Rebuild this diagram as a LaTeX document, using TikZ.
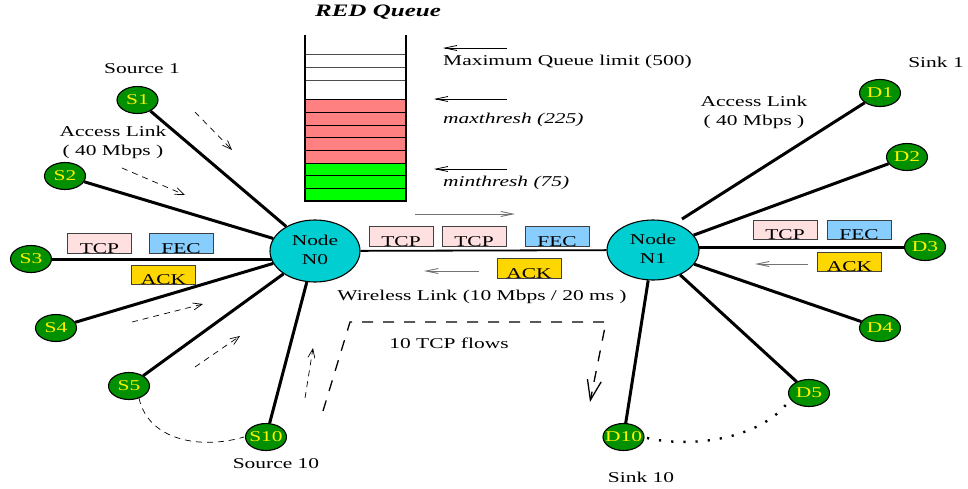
\documentclass[tikz,border=0pt]{standalone}
\usepackage{fontspec}
\setmainfont{Liberation Serif}
\usepackage{graphicx}
\usetikzlibrary{arrows.meta,shapes.geometric,backgrounds}
\newcommand{\hs}[1]{\scalebox{1.43}[1]{#1}}
\definecolor{nodegreen}{RGB}{0,144,0}
\definecolor{hubcyan}{RGB}{0,206,209}
\definecolor{tcpc}{RGB}{255,224,224}
\definecolor{fecc}{RGB}{135,206,255}
\definecolor{ackc}{RGB}{255,215,0}
\definecolor{qred}{RGB}{255,128,128}
\definecolor{qgreen}{RGB}{0,255,0}
\begin{document}
\begin{tikzpicture}[x=1pt,y=-1pt,
  every node/.style={font=\fontsize{15}{19}\selectfont, inner sep=0pt},
  src/.style={ellipse, draw=black, line width=1.1pt, fill=nodegreen, text=yellow,
    minimum width=41pt, minimum height=27pt},
  hub/.style={ellipse, draw=black, line width=1.1pt, fill=hubcyan,
    minimum width=90pt, minimum height=62pt},
  link/.style={line width=3pt},
  pkt/.style={rectangle, draw=black!75, line width=0.8pt, minimum width=64pt,
    text height=19pt, text depth=0pt, inner ysep=0pt, inner xsep=0pt},
  qarrow/.style={line width=0.8pt, -{Straight Barb[length=12pt,width=5pt]}},
  garrow/.style={line width=0.9pt, draw=black!55, -{Straight Barb[length=12pt,width=5pt]}},
  flowarrow/.style={line width=0.7pt, dash pattern=on 6pt off 5pt, -{Straight Barb[length=9pt,width=7pt]}},
  bigflow/.style={line width=1.3pt, dash pattern=on 11pt off 10pt, -{Straight Barb[length=20pt,width=14pt]}}
]
\useasboundingbox (0,0) rectangle (968,488);

% ---- RED queue ----
\node (qtitle) at (378,12) {\fontsize{17.5}{20}\selectfont\bfseries\itshape\hs{RED Queue}};
\fill[qred] (305,99.3) rectangle (405.7,163.3);
\fill[qgreen] (305,163.3) rectangle (405.7,201);
\foreach \y in {54.3,67.7,80} \draw[line width=0.6pt, black!70] (305,\y) -- (405.7,\y);
\foreach \y in {99.3,112.7,125,137.7,150.7,163.3,175.7,188.3} \draw[line width=0.8pt] (305,\y) -- (405.7,\y);
\draw[line width=2pt] (305,35) -- (305,201) -- (405.7,201) -- (405.7,35);

\draw[qarrow] (507,48) -- (443,48);
\draw[qarrow] (507,99) -- (434,99);
\draw[qarrow] (507,169) -- (434,169);
\node[anchor=west] (qmax) at (443,62) {\hs{Maximum Queue limit (500)}};
\node[anchor=west] (qmaxth) at (443,120) {\hs{\itshape maxthresh (225)}};
\node[anchor=west] (qminth) at (443,183) {\hs{\itshape minthresh (75)}};

% ---- nodes ----
\node[hub] (N0) at (315,251) {\makebox[0pt]{\hs{\begin{tabular}{@{}c@{}}Node\\N0\end{tabular}}}};
\node[hub, minimum width=92pt, minimum height=60pt] (N1) at (653,250) {\makebox[0pt]{\hs{\begin{tabular}{@{}c@{}}Node\\N1\end{tabular}}}};

\node[src] (S1) at (137.5,100) {\makebox[0pt]{\hs{S1}}};
\node[src] (S2) at (65,176) {\makebox[0pt]{\hs{S2}}};
\node[src] (S3) at (31,259) {\makebox[0pt]{\hs{S3}}};
\node[src] (S4) at (56,328) {\makebox[0pt]{\hs{S4}}};
\node[src] (S5) at (129,386) {\makebox[0pt]{\hs{S5}}};
\node[src] (S10) at (266,437) {\makebox[0pt]{\hs{S10}}};

\node[src] (D1) at (880,93) {\makebox[0pt]{\hs{D1}}};
\node[src] (D2) at (907,157) {\makebox[0pt]{\hs{D2}}};
\node[src] (D3) at (925,247) {\makebox[0pt]{\hs{D3}}};
\node[src] (D4) at (880,328) {\makebox[0pt]{\hs{D4}}};
\node[src] (D5) at (809,393) {\makebox[0pt]{\hs{D5}}};
\node[src] (D10) at (623.5,437) {\makebox[0pt]{\hs{D10}}};

\coordinate (N1top) at (682,219);

\begin{pgfonlayer}{background}
  \draw[link] (S1) -- (N0);
  \draw[link] (S2) -- (N0);
  \draw[link] (S3) -- (S3 -| N0);
  \draw[link] (S4) -- (N0);
  \draw[link] (S5) -- (N0);
  \draw[link] (S10) -- (N0);
  \draw[line width=1.8pt] (N0) -- (N1);
  \draw[link] (D1) -- (N1top);
  \draw[link] (D2) -- (N1);
  \draw[link] (D3) -- (D3 -| N1);
  \draw[link] (D4) -- (N1);
  \draw[link] (D5) -- (N1);
  \draw[link] (D10) -- (N1);
\end{pgfonlayer}

% ---- labels ----
\node (src1) at (142,69) {\hs{Source 1}};
\node (alL) at (113,142) {\hs{\begin{tabular}{@{}c@{}}Access Link\\( 40 Mbps )\end{tabular}}};
\node (alR) at (754,112) {\hs{\begin{tabular}{@{}c@{}}Access Link\\( 40 Mbps )\end{tabular}}};
\node (sink1) at (936,62) {\hs{Sink 1}};
\node (wl) at (482,297) {\hs{Wireless Link (10 Mbps / 20 ms )}};
\node (flows) at (449,343) {\hs{10 TCP flows}};
\node (src10) at (276,464) {\hs{Source 10}};
\node (sink10) at (641,477) {\hs{Sink 10}};

% ---- packets ----
\node[pkt, fill=tcpc, minimum height=20pt, text height=20pt] (pL1) at (99.5,243) {\hs{TCP}};
\node[pkt, fill=fecc, minimum height=20pt, text height=20pt] (pL2) at (181,243) {\hs{FEC}};
\node[pkt, fill=ackc] (pL3) at (163.5,274.5) {\hs{ACK}};

\node[pkt, fill=tcpc, minimum height=20pt, text height=20pt] (pM1) at (401,236) {\hs{TCP}};
\node[pkt, fill=tcpc, minimum height=20pt, text height=20pt] (pM2) at (474,236) {\hs{TCP}};
\node[pkt, fill=fecc, minimum height=20pt, text height=20pt] (pM3) at (557,236) {\hs{FEC}};
\node[pkt, fill=ackc, minimum height=20pt, text height=20pt] (pM4) at (529,268) {\hs{ACK}};

\node[pkt, fill=tcpc, minimum height=18.5pt, text height=18.5pt] (pR1) at (785,230) {\hs{TCP}};
\node[pkt, fill=fecc, minimum height=18.5pt, text height=18.5pt] (pR2) at (859,230) {\hs{FEC}};
\node[pkt, fill=ackc] (pR3) at (849.5,261.5) {\hs{ACK}};

% ---- direction arrows ----
\draw[garrow] (415,214) -- (515,214);
\draw[garrow] (479,271) -- (424,271);
\draw[garrow] (808,264) -- (755,264);

\draw[flowarrow] (195,112) -- (232,150);
\draw[flowarrow] (122,168) -- (185,195);
\draw[flowarrow] (132,322) -- (203,304);
\draw[flowarrow] (195,367) -- (240,336);
\draw[flowarrow] (305,398) -- (313,348);

\draw[bigflow] (323,411) -- (350,322) -- (606,322) -- (590,402);

% ---- arcs ----
\draw[line width=0.7pt, dash pattern=on 6pt off 5pt] (139,398) .. controls (148,440) and (200,450) .. (244,437);
\draw[line width=2.4pt, dash pattern=on 2.2pt off 10pt] (647,438) .. controls (690,448) and (760,440) .. (789,401);
\end{tikzpicture}
\end{document}
